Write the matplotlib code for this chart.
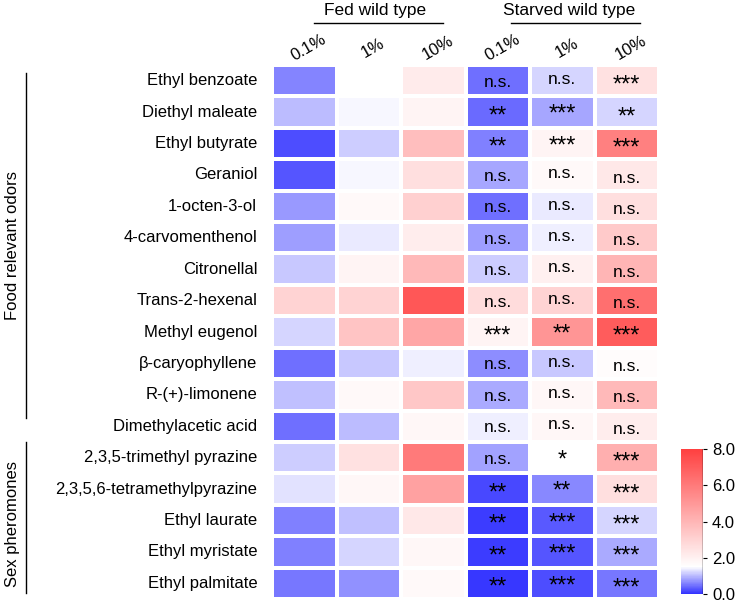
import numpy as np
import matplotlib.pyplot as plt
from matplotlib.colors import LinearSegmentedColormap, Normalize

plt.rcParams['font.family'] = ['Liberation Sans', 'DejaVu Sans']

odors = ['Ethyl benzoate', 'Diethyl maleate', 'Ethyl butyrate', 'Geraniol',
         '1-octen-3-ol', '4-carvomenthenol', 'Citronellal', 'Trans-2-hexenal',
         'Methyl eugenol', 'β-caryophyllene', 'R-(+)-limonene',
         'Dimethylacetic acid', '2,3,5-trimethyl pyrazine',
         '2,3,5,6-tetramethylpyrazine', 'Ethyl laurate', 'Ethyl myristate',
         'Ethyl palmitate']
concs = ['0.1%', '1%', '10%']
groups = ['Fed wild type', 'Starved wild type']

fed = np.array([
    [0.62, 1.50, 2.20],
    [1.00, 1.45, 1.90],
    [0.19, 1.15, 3.70],
    [0.28, 1.45, 2.60],
    [0.75, 1.70, 3.10],
    [0.80, 1.35, 2.10],
    [1.12, 1.90, 3.90],
    [3.00, 3.00, 7.20],
    [1.20, 3.50, 4.50],
    [0.46, 1.10, 1.40],
    [1.05, 1.70, 3.40],
    [0.46, 1.00, 1.80],
    [1.15, 2.50, 6.00],
    [1.30, 1.80, 4.70],
    [0.57, 1.06, 2.30],
    [0.57, 1.20, 1.80],
    [0.53, 0.70, 1.70],
])
starved = np.array([
    [0.45, 1.20, 2.50],
    [0.42, 0.86, 1.20],
    [0.57, 1.90, 5.80],
    [0.86, 1.70, 2.30],
    [0.46, 1.35, 2.60],
    [0.80, 1.38, 3.30],
    [1.15, 2.00, 4.00],
    [2.70, 3.00, 6.40],
    [1.90, 5.10, 7.00],
    [0.68, 1.10, 1.60],
    [0.90, 1.80, 3.90],
    [1.40, 1.75, 2.10],
    [0.83, 1.50, 4.20],
    [0.16, 0.63, 2.60],
    [0.08, 0.30, 1.20],
    [0.08, 0.28, 0.90],
    [0.05, 0.19, 0.53],
])
signif = [
    ['n.s.', 'n.s.', '***'],
    ['**', '***', '**'],
    ['**', '***', '***'],
    ['n.s.', 'n.s.', 'n.s.'],
    ['n.s.', 'n.s.', 'n.s.'],
    ['n.s.', 'n.s.', 'n.s.'],
    ['n.s.', 'n.s.', 'n.s.'],
    ['n.s.', 'n.s.', 'n.s.'],
    ['***', '**', '***'],
    ['n.s.', 'n.s.', 'n.s.'],
    ['n.s.', 'n.s.', 'n.s.'],
    ['n.s.', 'n.s.', 'n.s.'],
    ['n.s.', '*', '***'],
    ['**', '**', '***'],
    ['**', '***', '***'],
    ['**', '***', '***'],
    ['**', '***', '***'],
]
n_food = 12

vmin, vwhite, vmax = 0.0, 1.5, 8.0
cmap = LinearSegmentedColormap.from_list(
    'bwr_custom',
    [(0.0, (0.2, 0.2, 1.0)), (vwhite / vmax, (1.0, 1.0, 1.0)), (1.0, (1.0, 0.25, 0.25))])
norm = Normalize(vmin, vmax)

data = np.hstack([fed, starved])
nrow, ncol = data.shape

W, H = 735, 603
fig = plt.figure(figsize=(W / 100, H / 100), dpi=100)
x0, x1, y0, y1 = 272, 659, 65, 599
ax = fig.add_axes([x0 / W, 1 - y1 / H, (x1 - x0) / W, (y1 - y0) / H])
ax.pcolormesh(data, cmap=cmap, norm=norm, edgecolors='white', linewidth=1.5)
ax.set_xlim(0, ncol)
ax.set_ylim(nrow, 0)
ax.set_xticks([])
ax.set_yticks([])
for s in ax.spines.values():
    s.set_visible(False)

# row labels
for i, name in enumerate(odors):
    ax.text(-0.23, i + 0.5, name, ha='right', va='center', fontsize=12)

# significance marks on starved columns
col_shift = [0.05, -0.04, 0.1]
for i in range(nrow):
    for j in range(3):
        lab = signif[i][j]
        if '*' in lab:
            ax.text(3 + j + 0.5, i + 0.5 + 0.3 + col_shift[j] * 0.5, lab,
                    ha='center', va='baseline', fontsize=17)
        else:
            ax.text(3 + j + 0.5, i + 0.5 + col_shift[j], lab,
                    ha='center', va='center', fontsize=12.5)

# column labels
labels = concs + concs
for j, lab in enumerate(labels):
    ax.text(j + 0.57, -0.55, lab, ha='center', va='center', rotation=30,
            rotation_mode='anchor', fontsize=12)

# group headers with lines
for g, name in enumerate(groups):
    ax.text(g * 3 + 1.6, -1.72, name, ha='center', va='center', fontsize=12.5)
    ax.plot([g * 3 + 0.65 + 0.05 * g, g * 3 + 2.65 + 0.05 * g], [-1.33, -1.33],
            color='black', lw=1, clip_on=False)

# left brackets
xl = -3.81
ax.plot([xl, xl], [0.25, n_food - 0.75], color='black', lw=1, clip_on=False)
ax.plot([xl, xl], [n_food, nrow - 0.2], color='black', lw=1, clip_on=False)
ax.text(-4.02, n_food / 2 - 0.25, 'Food relevant odors', rotation=90,
        ha='center', va='center', fontsize=12)
ax.text(-4.02, (n_food + nrow) / 2 + 0.1, 'Sex pheromones', rotation=90,
        ha='center', va='center', fontsize=12)

# colorbar
cax = fig.add_axes([681 / W, 1 - 594 / H, 22 / W, 145 / H])
cb = fig.colorbar(plt.cm.ScalarMappable(norm=norm, cmap=cmap), cax=cax)
cb.set_ticks([0, 2, 4, 6, 8])
cb.set_ticklabels(['0.0', '2.0', '4.0', '6.0', '8.0'])
cb.ax.tick_params(labelsize=12, length=3)
cb.outline.set_visible(False)
cax.axvline(1, color='black', lw=1)

fig.savefig('out.png', dpi=100)
